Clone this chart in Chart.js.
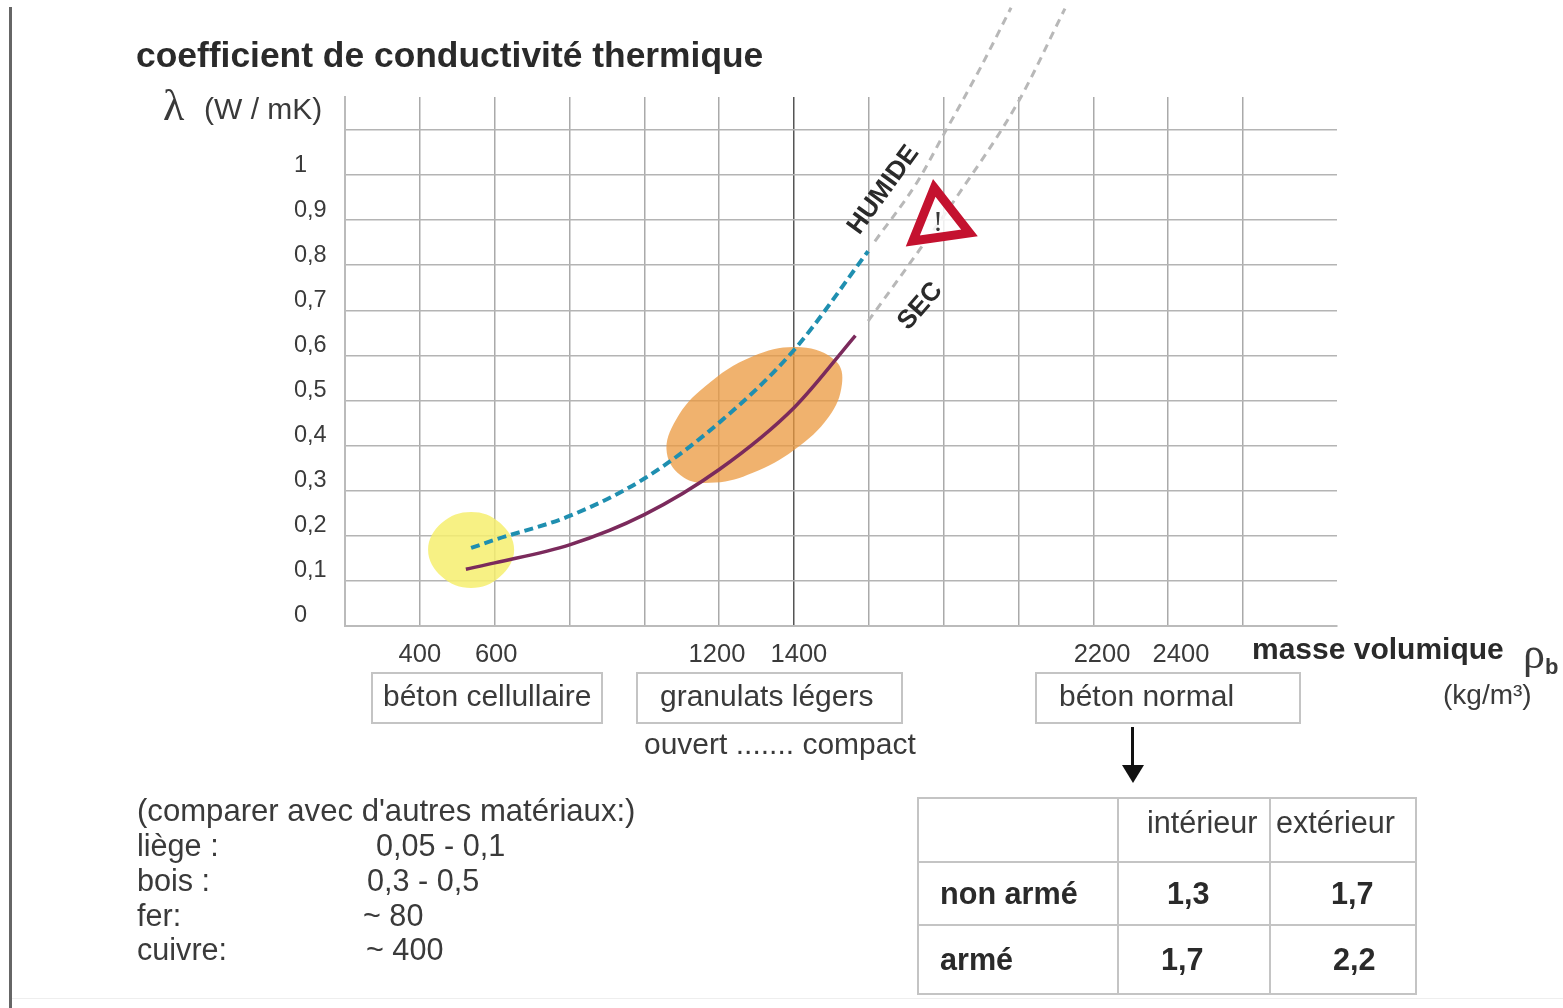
<!DOCTYPE html>
<html lang="fr">
<head>
  <meta charset="UTF-8" />
  <title>coefficient de conductivité thermique</title>
  <script src="https://cdn.jsdelivr.net/npm/chart.js"></script>
  <style>
    html, body { margin: 0; background: #fff; }
    body { position: relative; width: 1563px; height: 1008px; overflow: hidden;
           font-family: "Liberation Sans", Arial, sans-serif; color: #3a3a3a; }
    canvas { position: absolute; left: 0; top: 0; }
    .t { position: absolute; white-space: nowrap; line-height: 1; }
    .b { font-weight: bold; color: #2a2a2a; }
    .box { position: absolute; border: 2px solid #c4c4c4; box-sizing: border-box; }
    table { position: absolute; left: 917px; top: 797px; width: 498px; height: 197px;
            border-collapse: collapse; table-layout: fixed; }
    td { border: 2px solid #c4c4c4; padding: 0; font-size: 30.6px; line-height: 1; }
    sub { font-size: 22px; font-weight: bold; font-family: "Liberation Sans"; vertical-align: -6px; line-height: 0; }
  </style>
</head>
<body>
  <canvas id="chart" width="1563" height="1008"></canvas>

  <div style="position:absolute;left:9px;top:7px;width:3px;height:1001px;background:#666"></div>
  <div style="position:absolute;left:12px;top:998px;width:1551px;height:1px;background:#eee"></div>

  <div class="t b" style="left:136px;top:38px;font-size:35.4px">coefficient de conductivité thermique</div>
  <div class="t" style="left:163px;top:84px;font-size:44px;font-family:'Liberation Serif'">λ</div>
  <div class="t" style="left:204px;top:94px;font-size:30px">(W / mK)</div>

  <div class="t b" style="left:1252px;top:634px;font-size:30px">masse volumique</div>
  <div class="t" style="left:1523px;top:632px;font-size:44px;font-family:'Liberation Serif'">ρ<sub>b</sub></div>
  <div class="t" style="left:1443px;top:681px;font-size:28px">(kg/m³)</div>

  <div class="t b" style="left:882px;top:189px;font-size:26px;transform:translate(-50%,-50%) rotate(-54deg)">HUMIDE</div>
  <div class="t b" style="left:919px;top:305px;font-size:26px;transform:translate(-50%,-50%) rotate(-49deg)">SEC</div>
  <div class="t" style="left:938px;top:221px;font-size:30px;font-family:'Liberation Serif';transform:translate(-50%,-50%)">!</div>

  <div class="box" style="left:371px;top:672px;width:232px;height:52px"></div>
  <div class="t" style="left:383px;top:681px;font-size:30px">béton cellullaire</div>
  <div class="box" style="left:636px;top:672px;width:267px;height:52px"></div>
  <div class="t" style="left:660px;top:681px;font-size:30px">granulats légers</div>
  <div class="box" style="left:1035px;top:672px;width:266px;height:52px"></div>
  <div class="t" style="left:1059px;top:681px;font-size:30px">béton normal</div>
  <div class="t" style="left:644px;top:729px;font-size:30px">ouvert ....... compact</div>

  <div style="position:absolute;left:1131px;top:727px;width:3px;height:40px;background:#111"></div>
  <div style="position:absolute;left:1122px;top:765px;width:0;height:0;border-left:11px solid transparent;border-right:11px solid transparent;border-top:18px solid #111"></div>

  <div class="t" style="left:137px;top:795px;font-size:31.1px">(comparer avec d'autres matériaux:)</div>
  <div class="t" style="left:137px;top:830px;font-size:30.6px">liège :</div>
  <div class="t" style="left:376px;top:830px;font-size:30.6px">0,05 - 0,1</div>
  <div class="t" style="left:137px;top:865px;font-size:30.6px">bois :</div>
  <div class="t" style="left:367px;top:865px;font-size:30.6px">0,3 - 0,5</div>
  <div class="t" style="left:137px;top:900px;font-size:30.6px">fer:</div>
  <div class="t" style="left:363px;top:900px;font-size:30.6px">~ 80</div>
  <div class="t" style="left:137px;top:934px;font-size:30.6px">cuivre:</div>
  <div class="t" style="left:366px;top:934px;font-size:30.6px">~ 400</div>

  <table>
    <colgroup><col style="width:200px"><col style="width:152px"><col style="width:146px"></colgroup>
    <tr style="height:64px"><td></td><td style="padding:0 0 16px 28px">intérieur</td><td style="padding:0 0 16px 5px">extérieur</td></tr>
    <tr style="height:63px"><td class="b" style="padding-left:21px">non armé</td><td class="b" style="padding-left:48px">1,3</td><td class="b" style="padding-left:60px">1,7</td></tr>
    <tr style="height:69px"><td class="b" style="padding-left:21px">armé</td><td class="b" style="padding-left:42px">1,7</td><td class="b" style="padding-left:62px">2,2</td></tr>
  </table>

  <script>
    // grid and tick labels
    const xGridValues = [200, 400, 600, 800, 1000, 1200, 1400, 1600, 1800, 2000, 2200, 2400, 2600];
    const xTickValues = [400, 604, 1194, 1413, 2223, 2434];
    const xTickLabels = ['400', '600', '1200', '1400', '2200', '2400'];
    const yTickValues = [0, 0.1, 0.2, 0.3, 0.4, 0.5, 0.6, 0.7, 0.8, 0.9, 1, 1.1];
    const yTickLabels = ['0', '0,1', '0,2', '0,3', '0,4', '0,5', '0,6', '0,7', '0,8', '0,9', '1', ''];

    // curves, density (kg/m3) against lambda (W/mK)
    const secSolide = [[523, 0.126], [600, 0.14], [800, 0.18], [1000, 0.247], [1200, 0.347], [1400, 0.484], [1564, 0.644]];
    const humideTirets = [[537, 0.173], [600, 0.191], [800, 0.244], [1000, 0.327], [1200, 0.451], [1400, 0.612], [1598, 0.831]];
    const humideGris = [[1616, 0.853], [1729, 0.984], [1798, 1.087], [1897, 1.236], [1980, 1.371]];
    const secGris = [[1598, 0.676], [1737, 0.836], [1836, 0.953], [1999, 1.162], [2124, 1.369]];

    // zones on the graph, the outline goes round and overlaps itself so the join stays smooth
    const zoneCellulaire = [[459, 0.229], [537, 0.253], [614, 0.229], [652, 0.169], [614, 0.109], [537, 0.084],
      [459, 0.109], [422, 0.169], [459, 0.229], [537, 0.253], [614, 0.229]];
    const zoneGranulats = [[1290, 0.598], [1419, 0.618], [1512, 0.587], [1528, 0.536], [1493, 0.464], [1401, 0.391], [1290, 0.34],
      [1189, 0.318], [1106, 0.329], [1060, 0.384], [1085, 0.458], [1162, 0.531], [1290, 0.598], [1419, 0.618], [1512, 0.587]];
    const attention = [[1787, 0.899]];

    const pts = rows => rows.map(r => ({ x: r[0], y: r[1] }));
    const curve = (data, color, width, dash) => ({
      data: pts(data), showLine: true, pointRadius: 0, cubicInterpolationMode: 'monotone', clip: false,
      borderColor: color, borderWidth: width, borderDash: dash
    });
    const zone = (data, color) => ({
      data: pts(data), showLine: true, pointRadius: 0, tension: 0.4, fill: 'shape',
      backgroundColor: color, borderWidth: 0, order: 5
    });

    new Chart(document.getElementById('chart'), {
      type: 'scatter',
      data: {
        datasets: [
          zone(zoneCellulaire, 'rgba(246,238,110,0.85)'),
          zone(zoneGranulats, 'rgba(235,152,62,0.75)'),
          curve(humideGris, '#b8b8b8', 3, [8, 6]),
          curve(secGris, '#b8b8b8', 3, [8, 6]),
          curve(humideTirets, '#1f8fb0', 4, [9, 5]),
          curve(secSolide, '#7b2a5c', 3.5, []),
          {
            data: pts(attention), pointStyle: 'triangle', pointRadius: 33, pointRotation: -8,
            pointBackgroundColor: 'rgba(255,255,255,0.8)', pointBorderColor: '#c4122f', pointBorderWidth: 9,
            clip: false, order: -1
          }
        ]
      },
      options: {
        responsive: false,
        animation: false,
        layout: { padding: { left: 294, top: 97, right: 226, bottom: 342 } },
        plugins: { legend: { display: false }, tooltip: { enabled: false } },
        scales: {
          x: {
            type: 'linear', min: 200, max: 2851,
            afterBuildTicks: s => { s.ticks = xGridValues.map(v => ({ value: v })); },
            afterFit: s => { s.height = 0; },
            ticks: { display: false },
            border: { color: '#bbb', width: 2 },
            grid: {
              drawTicks: false, lineWidth: 1.5,
              color: c => c.tick && c.tick.value === 1400 ? '#555' : '#aaa'
            }
          },
          x2: {
            type: 'linear', axis: 'x', position: 'bottom', min: 200, max: 2851,
            afterBuildTicks: s => { s.ticks = xTickValues.map(v => ({ value: v })); },
            afterFit: s => { s.height = 40; },
            border: { display: false },
            grid: { display: false, drawTicks: false },
            ticks: {
              autoSkip: false, maxRotation: 0, padding: 14, color: '#3a3a3a',
              font: { family: 'Liberation Sans', size: 25.5 },
              callback: v => xTickLabels[xTickValues.indexOf(v)]
            }
          },
          y: {
            type: 'linear', min: 0, max: 1.173,
            afterBuildTicks: s => { s.ticks = yTickValues.map(v => ({ value: v })); },
            afterFit: s => { s.width = 51; },
            border: { color: '#bbb', width: 2 },
            grid: { drawTicks: false, lineWidth: 1.5, color: '#b4b4b4' },
            ticks: {
              autoSkip: false, crossAlign: 'far', labelOffset: -10, color: '#3a3a3a',
              font: { family: 'Liberation Sans', size: 23.5 },
              callback: v => yTickLabels[yTickValues.indexOf(v)]
            }
          }
        }
      }
    });
  </script>
</body>
</html>
